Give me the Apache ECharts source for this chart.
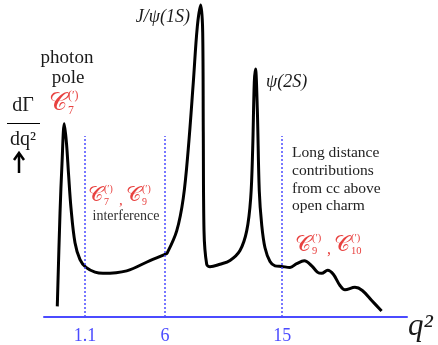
<!DOCTYPE html>
<html><head><meta charset="utf-8">
<script src="https://cdn.jsdelivr.net/npm/echarts@6/dist/echarts.min.js"></script>
<style>html,body{margin:0;padding:0;background:#fff}#c{width:438px;height:345px}</style>
</head><body><div id="c"></div>
<script>
// Schematic figure: position along the q² axis (0–100, not to scale) and dΓ/dq² (arbitrary units)
const curveX = [3.66, 4.41, 4.96, 5.59, 6.2, 6.75, 7.44, 8.54, 9.92, 11.57, 14.05, 16.25, 22.78, 29.2, 33.33, 33.97,
  36.56, 38.37, 39.75, 41.13, 42.23, 43.17, 43.72, 43.88, 44.08, 44.82, 45.73, 48.48, 51.24, 53.99, 55.84,
  56.94, 57.49, 57.93, 58.26, 58.76, 59.31, 59.97, 60.88, 62.26, 63.64, 65.48, 67.77, 69.61, 71.71, 73.75,
  75.4, 76.5, 78.15, 79.7, 81.54, 82.92, 85.67, 87.69, 90.28, 93.0];
const curveY = [3.4, 33.3, 49.2, 61.9, 55.6, 46.0, 34.9, 23.8, 18.4, 15.9, 14.4, 14.0, 14.8, 18.1, 20.1, 20.6,
  27.6, 38.1, 54.0, 75.2, 93.0, 100, 91.1, 59.4, 27.6, 16.9, 16.1, 16.9, 18.1, 21.3, 27.6,
  38.1, 54.0, 75.2, 79.5, 66.7, 40.3, 29.6, 22.2, 17.8, 16.4, 16.2, 15.9, 17.1, 18.0, 16.4,
  14.3, 14.0, 15.0, 13.7, 10.1, 8.7, 9.5, 8.5, 5.3, 1.9];
const tickPos = [11.3, 33.3, 65.6];
const tickLabels = ['1.1', '6', '15'];
const regionLineTop = 58;

const RED = '#e8413f', BLUE = '#4b4bff', INK = '#1a1a1a';
const SERIF = "'Liberation Serif', 'DejaVu Serif', serif";
const CAL = "'DejaVu Serif', 'DejaVu Sans', serif";

function txt(x, y, text, size, fill, opts) {
  opts = opts || {};
  return { type: 'text', x: x, y: y, silent: true, z: 10,
    style: { text: text, font: (opts.style || '') + ' ' + size + 'px ' + (opts.family || SERIF),
      fill: fill, align: opts.align || 'left', verticalAlign: 'middle' } };
}
function cSym(x, y, sub, size) {
  const w = size * 1.0;
  return [
    txt(x, y, '𝒞', size * 1.3, RED, { family: CAL }),
    txt(x + w, y - size * 0.4, '(′)', size * 0.62, RED),
    txt(x + w, y + size * 0.38, sub, size * 0.62, RED)
  ];
}

const graphics = [].concat(
  [txt(67, 58, 'photon', 19, INK, { align: 'center' }),
   txt(68, 78, 'pole', 19, INK, { align: 'center' })],
  cSym(49, 104, '7', 19),
  [txt(23, 106, 'dΓ', 20, INK, { align: 'center' }),
   { type: 'line', silent: true, shape: { x1: 7, y1: 123.5, x2: 40, y2: 123.5 }, style: { stroke: '#000', lineWidth: 1 } },
   txt(23, 140, 'dq²', 20, INK, { align: 'center', family: SERIF }),
   { type: 'line', silent: true, shape: { x1: 19, y1: 154, x2: 19, y2: 173 }, style: { stroke: '#000', lineWidth: 2.5 } },
   { type: 'polyline', silent: true, shape: { points: [[14, 160], [19, 153], [24, 160]] }, style: { stroke: '#000', lineWidth: 2.5, fill: null } }],
  [txt(190, 17, 'J/ψ(1S)', 18, INK, { align: 'right', style: 'italic' }),
   txt(266, 82, 'ψ(2S)', 18, INK, { style: 'italic' })],
  cSym(88, 196, '7', 16),
  [txt(119, 201, ',', 15, RED)],
  cSym(126, 196, '9', 16),
  [txt(126, 216, 'interference', 14, '#333', { align: 'center' })],
  [txt(292, 153, 'Long distance', 15.5, '#222'),
   txt(292, 171, 'contributions', 15.5, '#222'),
   txt(292, 189, 'from cc above', 15.5, '#222'),
   txt(292, 206, 'open charm', 15.5, '#222')],
  cSym(295, 245, '9', 17),
  [txt(327, 250, ',', 16, RED)],
  cSym(334, 245, '10', 17),
  [txt(408, 327, 'q²', 31, INK, { style: 'italic' })]
);

const chart = echarts.init(document.getElementById('c'), null, { renderer: 'canvas' });
chart.setOption({
  animation: false,
  backgroundColor: '#fff',
  grid: { left: 44, right: 31, top: 5, bottom: 25 },
  xAxis: {
    type: 'value', min: 0, max: 100,
    splitLine: { show: false },
    axisLine: { lineStyle: { color: BLUE, width: 2 } },
    axisTick: { show: false },
    axisLabel: {
      customValues: tickPos,
      formatter: function (v) { const i = tickPos.indexOf(v); return i >= 0 ? tickLabels[i] : ''; },
      color: BLUE, fontFamily: SERIF, fontSize: 18, margin: 10
    }
  },
  yAxis: { type: 'value', min: 0, max: 100, show: false },
  series: [{
    type: 'line',
    data: curveX.map(function (x, i) { return [x, curveY[i]]; }),
    smooth: 0.35,
    showSymbol: false,
    clip: false,
    lineStyle: { color: '#000', width: 3 },
    markLine: {
      silent: true, symbol: 'none', label: { show: false },
      lineStyle: { color: BLUE, type: [2, 2], width: 1.5 },
      data: tickPos.map(function (p) { return [{ coord: [p, 0] }, { coord: [p, regionLineTop] }]; })
    }
  }],
  graphic: graphics
});
</script></body></html>
